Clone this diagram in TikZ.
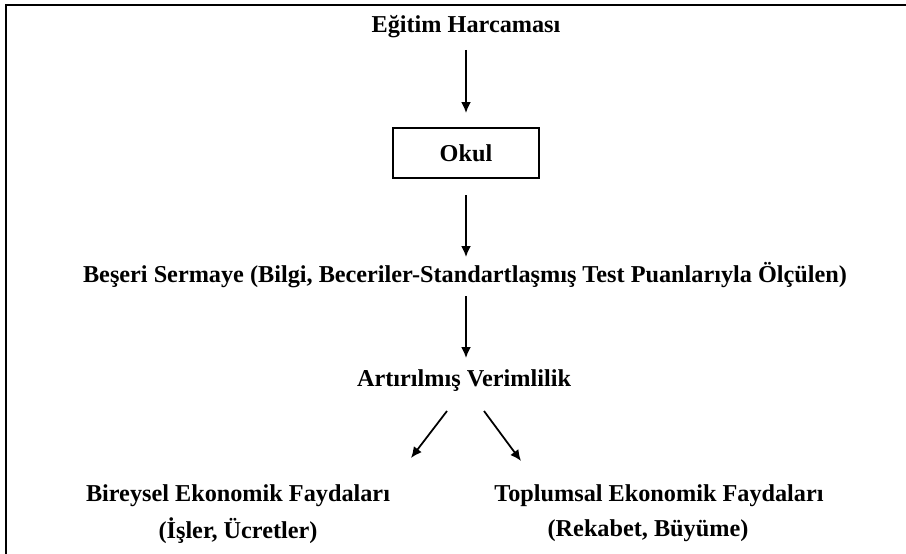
\documentclass[tikz,border=0pt]{standalone}
\usepackage{fontspec}
\setmainfont{Liberation Serif}
\usepackage{tikz}
\usetikzlibrary{positioning}
\usetikzlibrary{arrows.meta}

\begin{document}
\begin{tikzpicture}[x=0.02cm, y=-0.02cm, >={Latex[length=0.22cm,width=0.2cm]}, node distance=0.1cm,
lbl/.style={font=\bfseries, inner sep=1pt},
box/.style={draw, line width=0.7pt, minimum width=2.92cm, minimum height=1cm, font=\bfseries},
flow/.style={->, line width=1pt}]
\fontsize{13.8}{16}\selectfont
\useasboundingbox (0,0) rectangle (906,554);
\draw [line width=1pt] (906,5) -- (6,5) -- (6,554); % frame

\node [lbl] (harcama) at (466,27) {Eğitim Harcaması};
\node [box] (okul) at (466,153) {Okul};
\node [lbl] (beseri) at (465,275) {Beşeri Sermaye (Bilgi, Beceriler-Standartlaşmış Test Puanlarıyla Ölçülen)};
\node [lbl] (verim) at (464,381) {Artırılmış Verimlilik};

\node [lbl] (bireysel) at (238,496) {Bireysel Ekonomik Faydaları};
\node [lbl] (isler) at (238,531) {(İşler, Ücretler)};
\node [lbl] (toplum) at (659,496) {Toplumsal Ekonomik Faydaları};
\node [lbl] (rekabet) at (648,531) {(Rekabet, Büyüme)};

\coordinate (a1) at (466,50);
\coordinate (b1) at (466,113);
\coordinate (a2) at (466,195);
\coordinate (b2) at (466,257);
\coordinate (a3) at (466,296);
\coordinate (b3) at (466,358);
\coordinate (l1) at (447,411);
\coordinate (l2) at (411,458);
\coordinate (r1) at (484,411);
\coordinate (r2) at (521,461);

\draw [flow] (a1) -- (b1);
\draw [flow] (a2) -- (b2);
\draw [flow] (a3) -- (b3);
\draw [flow] (l1) -- (l2);
\draw [flow] (r1) -- (r2);
\end{tikzpicture}
\end{document}
